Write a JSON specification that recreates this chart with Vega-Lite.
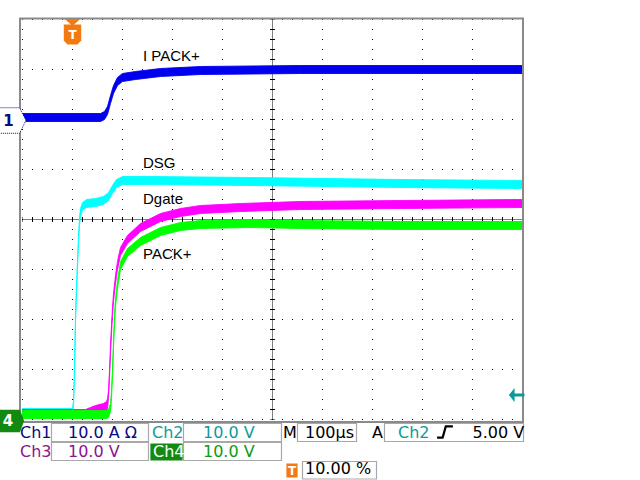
{
  "$schema": "https://vega.github.io/schema/vega-lite/v6.json",
  "width": 640,
  "height": 480,
  "autosize": "none",
  "padding": 0,
  "background": "white",
  "config": {"view": {"stroke": null}},
  "datasets": {
    "traces": [
      {"ch": "Ch1", "x": 0, "y": 5.96, "y2": 6.12},
      {"ch": "Ch1", "x": 1.56, "y": 5.96, "y2": 6.12},
      {"ch": "Ch1", "x": 1.64, "y": 6.00, "y2": 6.16},
      {"ch": "Ch1", "x": 1.70, "y": 6.10, "y2": 6.26},
      {"ch": "Ch1", "x": 1.76, "y": 6.32, "y2": 6.48},
      {"ch": "Ch1", "x": 1.82, "y": 6.52, "y2": 6.68},
      {"ch": "Ch1", "x": 1.90, "y": 6.68, "y2": 6.84},
      {"ch": "Ch1", "x": 2.00, "y": 6.76, "y2": 6.92},
      {"ch": "Ch1", "x": 2.26, "y": 6.80, "y2": 6.96},
      {"ch": "Ch1", "x": 2.76, "y": 6.86, "y2": 7.02},
      {"ch": "Ch1", "x": 3.56, "y": 6.90, "y2": 7.06},
      {"ch": "Ch1", "x": 5.56, "y": 6.92, "y2": 7.08},
      {"ch": "Ch1", "x": 10.0, "y": 6.92, "y2": 7.08},

      {"ch": "Ch2", "x": 0, "y": 0.06, "y2": 0.22},
      {"ch": "Ch2", "x": 1.00, "y": 0.06, "y2": 0.22},
      {"ch": "Ch2", "x": 1.02, "y": 0.22, "y2": 0.38},
      {"ch": "Ch2", "x": 1.04, "y": 0.92, "y2": 1.08},
      {"ch": "Ch2", "x": 1.06, "y": 1.92, "y2": 2.08},
      {"ch": "Ch2", "x": 1.08, "y": 2.52, "y2": 2.68},
      {"ch": "Ch2", "x": 1.10, "y": 3.02, "y2": 3.18},
      {"ch": "Ch2", "x": 1.12, "y": 3.52, "y2": 3.68},
      {"ch": "Ch2", "x": 1.14, "y": 3.88, "y2": 4.04},
      {"ch": "Ch2", "x": 1.16, "y": 4.06, "y2": 4.22},
      {"ch": "Ch2", "x": 1.20, "y": 4.18, "y2": 4.34},
      {"ch": "Ch2", "x": 1.28, "y": 4.24, "y2": 4.40},
      {"ch": "Ch2", "x": 1.46, "y": 4.26, "y2": 4.42},
      {"ch": "Ch2", "x": 1.62, "y": 4.30, "y2": 4.46},
      {"ch": "Ch2", "x": 1.72, "y": 4.38, "y2": 4.54},
      {"ch": "Ch2", "x": 1.80, "y": 4.52, "y2": 4.68},
      {"ch": "Ch2", "x": 1.88, "y": 4.64, "y2": 4.80},
      {"ch": "Ch2", "x": 2.00, "y": 4.70, "y2": 4.86},
      {"ch": "Ch2", "x": 2.56, "y": 4.70, "y2": 4.86},
      {"ch": "Ch2", "x": 4.56, "y": 4.68, "y2": 4.84},
      {"ch": "Ch2", "x": 7.56, "y": 4.64, "y2": 4.80},
      {"ch": "Ch2", "x": 10.0, "y": 4.62, "y2": 4.78},

      {"ch": "Ch3", "x": 0, "y": 0.04, "y2": 0.20},
      {"ch": "Ch3", "x": 1.26, "y": 0.04, "y2": 0.20},
      {"ch": "Ch3", "x": 1.46, "y": 0.08, "y2": 0.28},
      {"ch": "Ch3", "x": 1.62, "y": 0.12, "y2": 0.32},
      {"ch": "Ch3", "x": 1.68, "y": 0.16, "y2": 0.36},
      {"ch": "Ch3", "x": 1.70, "y": 0.22, "y2": 0.42},
      {"ch": "Ch3", "x": 1.72, "y": 0.42, "y2": 0.58},
      {"ch": "Ch3", "x": 1.74, "y": 0.82, "y2": 0.98},
      {"ch": "Ch3", "x": 1.76, "y": 1.32, "y2": 1.48},
      {"ch": "Ch3", "x": 1.78, "y": 1.72, "y2": 1.88},
      {"ch": "Ch3", "x": 1.80, "y": 2.08, "y2": 2.24},
      {"ch": "Ch3", "x": 1.82, "y": 2.36, "y2": 2.52},
      {"ch": "Ch3", "x": 1.86, "y": 2.72, "y2": 2.88},
      {"ch": "Ch3", "x": 1.90, "y": 3.00, "y2": 3.16},
      {"ch": "Ch3", "x": 1.96, "y": 3.28, "y2": 3.44},
      {"ch": "Ch3", "x": 2.10, "y": 3.52, "y2": 3.68},
      {"ch": "Ch3", "x": 2.36, "y": 3.76, "y2": 3.92},
      {"ch": "Ch3", "x": 2.76, "y": 3.96, "y2": 4.12},
      {"ch": "Ch3", "x": 3.16, "y": 4.06, "y2": 4.22},
      {"ch": "Ch3", "x": 3.56, "y": 4.12, "y2": 4.28},
      {"ch": "Ch3", "x": 4.36, "y": 4.16, "y2": 4.32},
      {"ch": "Ch3", "x": 5.56, "y": 4.20, "y2": 4.36},
      {"ch": "Ch3", "x": 7.56, "y": 4.22, "y2": 4.38},
      {"ch": "Ch3", "x": 10.0, "y": 4.24, "y2": 4.40},

      {"ch": "Ch4", "x": 0, "y": 0.02, "y2": 0.18},
      {"ch": "Ch4", "x": 1.68, "y": 0.02, "y2": 0.18},
      {"ch": "Ch4", "x": 1.72, "y": 0.04, "y2": 0.20},
      {"ch": "Ch4", "x": 1.76, "y": 0.16, "y2": 0.32},
      {"ch": "Ch4", "x": 1.78, "y": 0.42, "y2": 0.58},
      {"ch": "Ch4", "x": 1.80, "y": 0.88, "y2": 1.04},
      {"ch": "Ch4", "x": 1.82, "y": 1.42, "y2": 1.58},
      {"ch": "Ch4", "x": 1.84, "y": 1.92, "y2": 2.08},
      {"ch": "Ch4", "x": 1.86, "y": 2.26, "y2": 2.42},
      {"ch": "Ch4", "x": 1.90, "y": 2.62, "y2": 2.78},
      {"ch": "Ch4", "x": 1.96, "y": 3.00, "y2": 3.16},
      {"ch": "Ch4", "x": 2.10, "y": 3.26, "y2": 3.42},
      {"ch": "Ch4", "x": 2.36, "y": 3.48, "y2": 3.64},
      {"ch": "Ch4", "x": 2.76, "y": 3.68, "y2": 3.84},
      {"ch": "Ch4", "x": 3.16, "y": 3.78, "y2": 3.94},
      {"ch": "Ch4", "x": 3.56, "y": 3.82, "y2": 3.98},
      {"ch": "Ch4", "x": 4.56, "y": 3.84, "y2": 4.00},
      {"ch": "Ch4", "x": 5.56, "y": 3.82, "y2": 3.98},
      {"ch": "Ch4", "x": 7.56, "y": 3.80, "y2": 3.96},
      {"ch": "Ch4", "x": 10.0, "y": 3.80, "y2": 3.96}
    ]
  },
  "encoding": {
    "x": {"field": "x", "type": "quantitative", "scale": {"domain": [-0.45, 12.35], "nice": false, "zero": false}, "axis": null},
    "y": {"field": "y", "type": "quantitative", "scale": {"domain": [-1.21, 8.39], "nice": false, "zero": false}, "axis": null}
  },
  "layer": [
    {
      "data": {"values": [
        {"x": 1, "y": 0, "y2": 8}, {"x": 2, "y": 0, "y2": 8}, {"x": 3, "y": 0, "y2": 8}, {"x": 4, "y": 0, "y2": 8},
        {"x": 6, "y": 0, "y2": 8}, {"x": 7, "y": 0, "y2": 8}, {"x": 8, "y": 0, "y2": 8}, {"x": 9, "y": 0, "y2": 8},
        {"x": 0, "y": 0, "y2": 8}, {"x": 10, "y": 0, "y2": 8}
      ]},
      "mark": {"type": "rule", "color": "#000000", "strokeWidth": 1, "strokeDash": [1, 9], "strokeDashOffset": 0.5},
      "encoding": {"y2": {"field": "y2"}}
    },
    {
      "data": {"values": [
        {"x": 0, "x2": 10, "y": 1}, {"x": 0, "x2": 10, "y": 2}, {"x": 0, "x2": 10, "y": 3},
        {"x": 0, "x2": 10, "y": 5}, {"x": 0, "x2": 10, "y": 6}, {"x": 0, "x2": 10, "y": 7},
        {"x": 0, "x2": 10, "y": 0}, {"x": 0, "x2": 10, "y": 8}
      ]},
      "mark": {"type": "rule", "color": "#000000", "strokeWidth": 1, "strokeDash": [1, 9], "strokeDashOffset": 0.5},
      "encoding": {"x2": {"field": "x2"}}
    },
    {
      "data": {"values": [{"x": 0, "x2": 10, "y": 4}]},
      "mark": {"type": "rule", "color": "#000000", "strokeWidth": 1, "strokeDash": [1, 1]},
      "encoding": {"x2": {"field": "x2"}}
    },
    {
      "data": {"values": [{"x": 0, "x2": 10, "y": 4}]},
      "mark": {"type": "rule", "color": "#000000", "strokeWidth": 5, "strokeDash": [1, 9], "strokeDashOffset": 0.5},
      "encoding": {"x2": {"field": "x2"}}
    },
    {
      "data": {"values": [{"x": 5, "y": 0, "y2": 8}]},
      "mark": {"type": "rule", "color": "#000000", "strokeWidth": 1, "strokeDash": [1, 1]},
      "encoding": {"y2": {"field": "y2"}}
    },
    {
      "data": {"values": [{"x": 5, "y": 0, "y2": 8}]},
      "mark": {"type": "rule", "color": "#000000", "strokeWidth": 5, "strokeDash": [1, 9], "strokeDashOffset": 0.5},
      "encoding": {"y2": {"field": "y2"}}
    },
    {
      "data": {"name": "traces"},
      "transform": [{"filter": "datum.ch === 'Ch1'"}],
      "mark": {"type": "area", "color": "#0000ee", "stroke": "#0000ee", "strokeWidth": 0.9},
      "encoding": {"y2": {"field": "y2"}}
    },
    {
      "data": {"name": "traces"},
      "transform": [{"filter": "datum.ch === 'Ch2'"}],
      "mark": {"type": "area", "color": "#00ffff", "stroke": "#00ffff", "strokeWidth": 0.9},
      "encoding": {"y2": {"field": "y2"}}
    },
    {
      "data": {"name": "traces"},
      "transform": [{"filter": "datum.ch === 'Ch3'"}],
      "mark": {"type": "area", "color": "#ff00ff", "stroke": "#ff00ff", "strokeWidth": 0.9},
      "encoding": {"y2": {"field": "y2"}}
    },
    {
      "data": {"name": "traces"},
      "transform": [{"filter": "datum.ch === 'Ch4'"}],
      "mark": {"type": "area", "color": "#00ff00", "stroke": "#00ff00", "strokeWidth": 0.9},
      "encoding": {"y2": {"field": "y2"}}
    },
    {
      "data": {"values": [{"x": -0.05, "x2": 10.01, "y": -0.05, "y2": 8.02}]},
      "mark": {"type": "rect", "filled": false, "stroke": "#8a8a8a", "strokeWidth": 2},
      "encoding": {"x2": {"field": "x2"}, "y2": {"field": "y2"}}
    },
    {
      "data": {"values": [
        {"x": 2.41, "y": 7.17, "text": "I PACK+"},
        {"x": 2.41, "y": 5.03, "text": "DSG"},
        {"x": 2.41, "y": 4.31, "text": "Dgate"},
        {"x": 2.41, "y": 3.21, "text": "PACK+"}
      ]},
      "mark": {"type": "text", "align": "left", "baseline": "alphabetic", "font": "Liberation Sans", "fontSize": 15, "color": "#000000"},
      "encoding": {"text": {"field": "text"}}
    },
    {
      "data": {"values": [
        {"x": 0.58, "x2": 2.52, "y": -0.08, "y2": -0.44, "kind": "box"},
        {"x": 3.22, "x2": 5.18, "y": -0.08, "y2": -0.44, "kind": "box"},
        {"x": 5.5, "x2": 6.68, "y": -0.08, "y2": -0.44, "kind": "box"},
        {"x": 7.24, "x2": 10.02, "y": -0.08, "y2": -0.44, "kind": "box"},
        {"x": 0.58, "x2": 2.52, "y": -0.46, "y2": -0.82, "kind": "box"},
        {"x": 3.22, "x2": 5.18, "y": -0.46, "y2": -0.82, "kind": "box"},
        {"x": 5.6, "x2": 7.08, "y": -0.84, "y2": -1.19, "kind": "box"},
        {"x": 2.57, "x2": 3.19, "y": -0.49, "y2": -0.81, "kind": "ch4"},
        {"x": 5.29, "x2": 5.49, "y": -0.89, "y2": -1.15, "kind": "trig"}
      ]},
      "mark": {"type": "rect", "strokeWidth": 1.2},
      "encoding": {
        "x2": {"field": "x2"},
        "y2": {"field": "y2"},
        "fill": {"field": "kind", "type": "nominal", "scale": {"domain": ["box", "ch4", "trig"], "range": ["#ffffff", "#128a12", "#f27a10"]}, "legend": null},
        "stroke": {"field": "kind", "type": "nominal", "scale": {"domain": ["box", "ch4", "trig"], "range": ["#a8a8a8", "#128a12", "#f27a10"]}, "legend": null}
      }
    },
    {
      "data": {"values": [
        {"x": -0.05, "y": -0.37, "text": "Ch1", "g": "c1"},
        {"x": 0.91, "y": -0.37, "text": "10.0 A Ω", "g": "c1"},
        {"x": 2.59, "y": -0.37, "text": "Ch2", "g": "c2"},
        {"x": 3.61, "y": -0.37, "text": "10.0 V", "g": "c2"},
        {"x": 5.21, "y": -0.37, "text": "M", "g": "k"},
        {"x": 5.65, "y": -0.37, "text": "100µs", "g": "k"},
        {"x": 6.99, "y": -0.37, "text": "A", "g": "k"},
        {"x": 7.51, "y": -0.37, "text": "Ch2", "g": "c2"},
        {"x": 9.0, "y": -0.37, "text": "5.00 V", "g": "k"},
        {"x": -0.05, "y": -0.75, "text": "Ch3", "g": "c3"},
        {"x": 0.91, "y": -0.75, "text": "10.0 V", "g": "c3"},
        {"x": 2.61, "y": -0.75, "text": "Ch4", "g": "w"},
        {"x": 3.61, "y": -0.75, "text": "10.0 V", "g": "c4"},
        {"x": 5.65, "y": -1.09, "text": "10.00 %", "g": "k"}
      ]},
      "mark": {"type": "text", "align": "left", "baseline": "alphabetic", "font": "DejaVu Sans", "fontSize": 16},
      "encoding": {
        "text": {"field": "text"},
        "color": {"field": "g", "type": "nominal", "scale": {"domain": ["c1", "c2", "c3", "c4", "k", "w"], "range": ["#0a0a80", "#0f9a9a", "#8c148c", "#0f9a0f", "#000000", "#ffffff"]}, "legend": null}
      }
    },
    {
      "data": {"values": [{"x": 8.45, "y": -0.25}]},
      "mark": {"type": "point", "shape": "M-1,0.7H-0.3L0.1,-0.7H1", "size": 250, "filled": false, "stroke": "#000000", "strokeWidth": 2.2, "opacity": 1}
    },
    {
      "data": {"values": [{"x": -0.235, "y": 5.98}]},
      "mark": {"type": "point", "shape": "M-1,-0.84H0.58L1,0L0.58,0.84H-1Z", "size": 924, "filled": true, "fill": "#ffffff", "stroke": "#0a0a80", "strokeWidth": 1, "strokeDash": [1, 1], "opacity": 1}
    },
    {
      "data": {"values": [{"x": -0.28, "y": 5.98, "text": "1"}]},
      "mark": {"type": "text", "align": "center", "baseline": "middle", "font": "DejaVu Sans", "fontSize": 15, "fontWeight": "bold", "color": "#0a0a80"},
      "encoding": {"text": {"field": "text"}}
    },
    {
      "data": {"values": [{"x": -0.25, "y": -0.03}]},
      "mark": {"type": "point", "shape": "M-1,-0.8H0.7L1,0L0.7,0.8H-1Z", "size": 800, "filled": true, "fill": "#128a12", "strokeWidth": 0, "opacity": 1}
    },
    {
      "data": {"values": [{"x": -0.29, "y": -0.03, "text": "4"}]},
      "mark": {"type": "text", "align": "center", "baseline": "middle", "font": "DejaVu Sans", "fontSize": 15, "fontWeight": "bold", "color": "#ffffff"},
      "encoding": {"text": {"field": "text"}}
    },
    {
      "data": {"values": [{"x": 1.0, "y": 7.94}]},
      "mark": {"type": "point", "shape": "M-1,-0.45L1,-0.45L0,0.45Z", "size": 242, "filled": true, "fill": "#f27a10", "strokeWidth": 0, "opacity": 1}
    },
    {
      "data": {"values": [{"x": 1.0, "y": 7.7}]},
      "mark": {"type": "point", "shape": "M-0.87,-1H0.87V0.6L0.5,1H-0.5L-0.87,0.6Z", "size": 400, "filled": true, "fill": "#f27a10", "strokeWidth": 0, "opacity": 1}
    },
    {
      "data": {"values": [{"x": 1.0, "y": 7.7, "text": "T"}, {"x": 5.39, "y": -1.02, "text": "T"}]},
      "mark": {"type": "text", "align": "center", "baseline": "middle", "font": "DejaVu Sans", "fontSize": 12, "fontWeight": "bold", "color": "#ffffff"},
      "encoding": {"text": {"field": "text"}}
    },
    {
      "data": {"values": [{"x": 9.87, "y": 0.49}]},
      "mark": {"type": "point", "shape": "M-1,0L-0.2,-1V-0.2H1.2V0.2H-0.2V1Z", "size": 200, "filled": true, "fill": "#0a9a9a", "strokeWidth": 0, "opacity": 1}
    }
  ]
}
